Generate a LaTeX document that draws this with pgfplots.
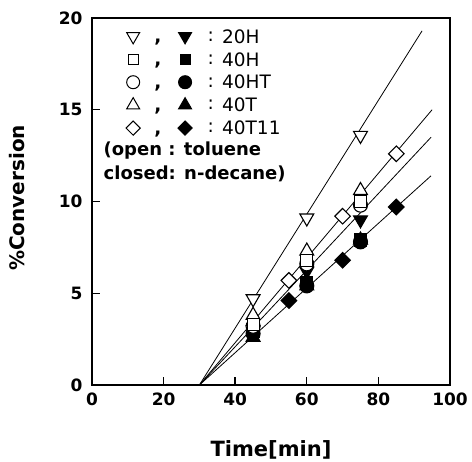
\documentclass[border=0pt]{standalone}
\usepackage{pgfplots}
\pgfplotsset{compat=1.18}
\usepackage{fontspec}
\setmainfont{DejaVu Sans}
\tikzset{lg/.style={font=\fontsize{18.5}{20}\selectfont, anchor=west, inner sep=0pt}}
\begin{document}
\begin{tikzpicture}
\begin{axis}[
  name=ax,
  scale only axis,
  width=358pt, height=367pt,
  xmin=0, xmax=100, ymin=0, ymax=20,
  xtick={0,20,...,100}, ytick={0,5,...,20},
  tick pos=left, tick align=inside,
  major tick length=8pt,
  axis line style={line width=2.6pt},
  every tick/.style={line width=1.4pt, black},
  tick label style={font=\fontsize{17}{19}\selectfont\bfseries},
  xticklabel style={yshift=-4pt},
  yticklabel style={xshift=-6pt},
  /pgf/number format/assume math mode=true,
  xlabel={Time[min]}, ylabel={\%Conversion},
  xlabel style={font=\fontsize{21}{23}\selectfont\bfseries, at={(axis description cs:0.5,-0.177)}, anchor=center},
  ylabel style={font=\fontsize{20}{22}\selectfont\bfseries, at={(axis description cs:-0.21,0.51)}, anchor=center},
  clip=false,
]
% fitted lines
\addplot[black, line width=0.8pt] coordinates {(30,0) (92.2,19.3)};
\addplot[black, line width=0.8pt] coordinates {(30,0) (95,15.0)};
\addplot[black, line width=0.8pt] coordinates {(30,0) (94.7,13.5)};
\addplot[black, line width=0.8pt] coordinates {(30,0) (94.7,11.4)};
% closed: n-decane
\addplot[only marks, black, line width=1.1pt, mark=triangle*, mark size=8pt, mark options={fill=black}] coordinates {(45,2.6) (60,5.4) (75,7.9)};
\addplot[only marks, black, line width=1.1pt, mark=*, mark size=7pt, mark options={fill=black}] coordinates {(45,2.8) (60,5.4) (75,7.8)};
\addplot[only marks, black, line width=1.1pt, mark=square*, mark size=6pt, mark options={fill=black}] coordinates {(45,2.9) (60,5.6) (75,7.9)};
\addplot[only marks, black, line width=1.1pt, mark=triangle*, mark size=8pt, mark options={fill=black, rotate=180}] coordinates {(45,3.0) (60,6.2) (75,9.0)};
\addplot[only marks, black, line width=1.1pt, mark=square*, mark size=5.5pt, mark options={fill=black, rotate=45}] coordinates {(55,4.6) (70,6.8) (85,9.7)};
% open: toluene
\addplot[only marks, black, line width=1.1pt, mark=triangle*, mark size=8pt, mark options={fill=white}] coordinates {(45,3.8) (60,7.3) (75,10.6)};
\addplot[only marks, black, line width=1.1pt, mark=*, mark size=7pt, mark options={fill=white}] coordinates {(45,3.2) (60,6.6) (75,9.8)};
\addplot[only marks, black, line width=1.1pt, mark=square*, mark size=6pt, mark options={fill=white}] coordinates {(45,3.3) (60,6.8) (75,10.0)};
\addplot[only marks, black, line width=1.1pt, mark=triangle*, mark size=8pt, mark options={fill=white, rotate=180}] coordinates {(45,4.7) (60,9.1) (75,13.6)};
\addplot[only marks, black, line width=1.1pt, mark=square*, mark size=5.5pt, mark options={fill=white, rotate=45}] coordinates {(55,5.7) (70,9.2) (85,12.6)};
% legend symbols
\addplot[only marks, black, line width=1pt, mark=triangle*, mark size=7.5pt, mark options={fill=white, rotate=180}] coordinates {(11.5,19.0)};
\addplot[only marks, black, line width=1pt, mark=triangle*, mark size=7.5pt, mark options={fill=black, rotate=180}] coordinates {(26.0,19.0)};
\addplot[only marks, black, line width=1pt, mark=square*, mark size=5pt, mark options={fill=white}] coordinates {(11.5,17.75)};
\addplot[only marks, black, line width=1pt, mark=square*, mark size=5pt, mark options={fill=black}] coordinates {(26.0,17.75)};
\addplot[only marks, black, line width=1pt, mark=*, mark size=6.5pt, mark options={fill=white}] coordinates {(11.5,16.5)};
\addplot[only marks, black, line width=1pt, mark=*, mark size=6.5pt, mark options={fill=black}] coordinates {(26.0,16.5)};
\addplot[only marks, black, line width=1pt, mark=triangle*, mark size=7.5pt, mark options={fill=white}] coordinates {(11.5,15.25)};
\addplot[only marks, black, line width=1pt, mark=triangle*, mark size=7.5pt, mark options={fill=black}] coordinates {(26.0,15.25)};
\addplot[only marks, black, line width=1pt, mark=square*, mark size=5pt, mark options={fill=white, rotate=45}] coordinates {(11.5,14.0)};
\addplot[only marks, black, line width=1pt, mark=square*, mark size=5pt, mark options={fill=black, rotate=45}] coordinates {(26.0,14.0)};
\node[lg, anchor=center, font=\fontsize{18.5}{20}\selectfont\bfseries] at (axis cs:18.4,18.7) {,};
\node[lg, anchor=center, font=\fontsize{18.5}{20}\selectfont\bfseries] at (axis cs:18.4,17.45) {,};
\node[lg, anchor=center, font=\fontsize{18.5}{20}\selectfont\bfseries] at (axis cs:18.4,16.2) {,};
\node[lg, anchor=center, font=\fontsize{18.5}{20}\selectfont\bfseries] at (axis cs:18.4,14.95) {,};
\node[lg, anchor=center, font=\fontsize{18.5}{20}\selectfont\bfseries] at (axis cs:18.4,13.7) {,};
\node[lg, anchor=center] at (axis cs:33.2,19.0) {:};
\node[lg, anchor=center] at (axis cs:33.2,17.75) {:};
\node[lg, anchor=center] at (axis cs:33.2,16.5) {:};
\node[lg, anchor=center] at (axis cs:33.2,15.25) {:};
\node[lg, anchor=center] at (axis cs:33.2,14.0) {:};
\node[lg] at (axis cs:36.3,19.0) {20H};
\node[lg] at (axis cs:36.3,17.75) {40H};
\node[lg] at (axis cs:36.3,16.5) {40HT};
\node[lg] at (axis cs:36.3,15.25) {40T};
\node[lg] at (axis cs:36.3,14.0) {40T11};
\node[lg, font=\fontsize{18}{20}\selectfont\bfseries] at (axis cs:3.2,12.75) {(open : toluene};
\node[lg, font=\fontsize{18}{20}\selectfont\bfseries] at (axis cs:3.2,11.5) {closed: n-decane)};
\end{axis}
\pgfresetboundingbox
\path[use as bounding box] ([xshift=-92pt,yshift=-77pt]ax.south west) rectangle ([xshift=22pt,yshift=18pt]ax.north east);
\end{tikzpicture}
\end{document}
